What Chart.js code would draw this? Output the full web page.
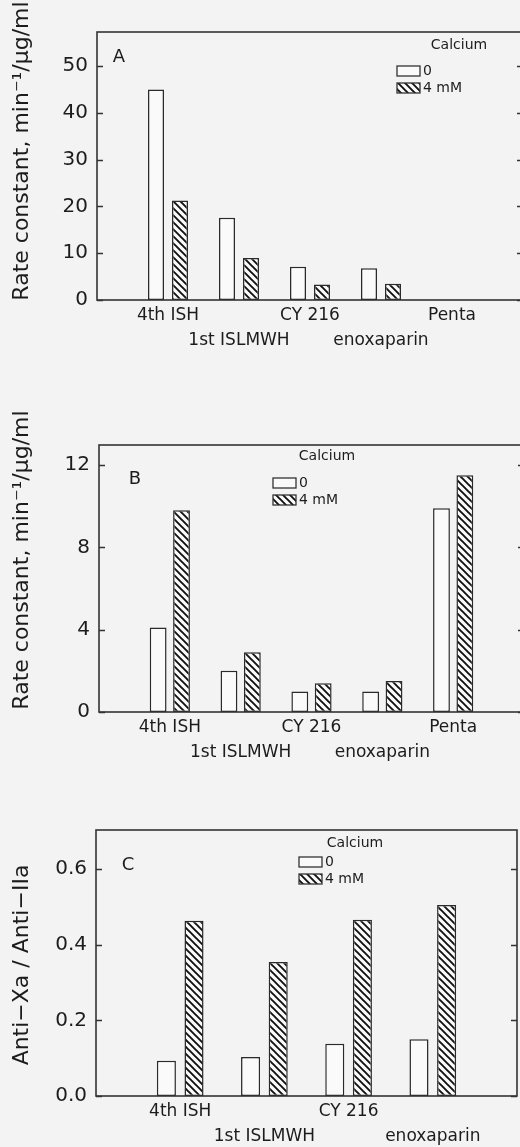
<!DOCTYPE html>
<html>
<head>
<meta charset="utf-8">
<script src="https://cdn.jsdelivr.net/npm/chart.js@4.4.1/dist/chart.umd.min.js"></script>
<style>
  html, body { margin: 0; padding: 0; background: #f3f3f3; width: 520px; height: 1147px; overflow: hidden; position: relative; }
  canvas { position: absolute; left: 0; }
</style>
</head>
<body>
<canvas id="chartA" style="top:0px" width="540" height="360"></canvas>
<canvas id="chartB" style="top:380px" width="540" height="390"></canvas>
<canvas id="chartC" style="top:770px" width="520" height="377"></canvas>
<script>
// categories (blank entries pad the axis on both sides)
const groupsAB = ['4th ISH', '1st ISLMWH', 'CY 216', 'enoxaparin', 'Penta'];
const groupsC = ['4th ISH', '1st ISLMWH', 'CY 216', 'enoxaparin'];
const seriesNames = ['0', '4 mM'];

// panel A: rate constant, min-1/ug/ml
const rateA_noCa = [45, 17.6, 7.1, 6.8, null];
const rateA_Ca = [21.3, 9.0, 3.3, 3.5, null];
// panel B
const rateB_noCa = [4.1, 2.0, 1.0, 1.0, 9.9];
const rateB_Ca = [9.8, 2.9, 1.4, 1.5, 11.5];
// panel C: anti-Xa / anti-IIa
const ratioC_noCa = [0.093, 0.103, 0.138, 0.15];
const ratioC_Ca = [0.463, 0.354, 0.466, 0.505];

const ink = '#1c1c1c';
const paper = '#fafafa';
const font = 'DejaVu Sans';

function makeHatch() {
    const c = document.createElement('canvas');
    c.width = 7; c.height = 7;
    const g = c.getContext('2d');
    g.fillStyle = paper;
    g.fillRect(0, 0, 7, 7);
    g.strokeStyle = '#111';
    g.lineWidth = 1.9;
    g.beginPath();
    g.moveTo(-1, -1); g.lineTo(8, 8);
    g.moveTo(-1, 6); g.lineTo(1, 8);
    g.moveTo(6, -1); g.lineTo(8, 1);
    g.stroke();
    return g.createPattern(c, 'repeat');
}
const hatch = makeHatch();

// frame, inward ticks, panel letter, legend and y title
const framePlugin = {
    id: 'frame',
    afterDatasetsDraw(chart, args, o) {
        const ctx = chart.ctx;
        const a = chart.chartArea;
        const y = chart.scales.y;
        ctx.save();
        ctx.strokeStyle = '#333';
        ctx.lineWidth = 1.6;
        ctx.strokeRect(a.left, a.top, a.right - a.left, a.bottom - a.top);
        ctx.lineWidth = 1.3;
        ctx.beginPath();
        y.ticks.forEach((t, i) => {
            const py = Math.round(y.getPixelForTick(i)) + 0.5;
            ctx.moveTo(a.left, py); ctx.lineTo(a.left + 6, py);
            ctx.moveTo(a.right, py); ctx.lineTo(a.right - 6, py);
        });
        ctx.stroke();

        ctx.fillStyle = ink;
        ctx.textAlign = 'center';
        ctx.textBaseline = 'middle';
        ctx.font = '18px "' + font + '"';
        ctx.fillText(o.letter, a.left + o.letterAt[0], a.top + o.letterAt[1]);

        // legend
        ctx.font = '14px "' + font + '"';
        ctx.fillText(o.legendTitle, a.left + o.legendTitleAt[0], a.top + o.legendTitleAt[1]);
        const bx = a.left + o.legendAt[0];
        let by = a.top + o.legendAt[1];
        ctx.textAlign = 'left';
        chart.data.datasets.forEach((ds, i) => {
            ctx.fillStyle = ds.backgroundColor;
            ctx.fillRect(bx, by, 23, 10);
            ctx.lineWidth = 1.3;
            ctx.strokeRect(bx, by, 23, 10);
            ctx.fillStyle = ink;
            ctx.fillText(ds.label, bx + 26, by + 5);
            by += 17;
        });

        // y title
        ctx.font = '22px "' + font + '"';
        ctx.textAlign = 'center';
        ctx.translate(o.titleAt[0], o.titleAt[1]);
        ctx.rotate(-Math.PI / 2);
        ctx.fillText(o.title, 0, 0);
        ctx.restore();
    }
};

function makeChart(id, groups, noCa, ca, opt) {
    const labels = [''].concat(groups, ['']);
    const pad = v => [null].concat(v, [null]);
    return new Chart(document.getElementById(id), {
        type: 'bar',
        data: {
            labels: labels,
            datasets: [
                { label: seriesNames[0], data: pad(noCa), backgroundColor: paper, borderColor: '#2a2a2a', borderWidth: 1.5, borderSkipped: false },
                { label: seriesNames[1], data: pad(ca), backgroundColor: hatch, borderColor: '#2a2a2a', borderWidth: 1.5, borderSkipped: false }
            ]
        },
        options: {
            responsive: false,
            devicePixelRatio: 1,
            animation: false,
            categoryPercentage: opt.catPct,
            barPercentage: opt.barPct,
            layout: { padding: { top: opt.top, right: opt.right, left: 0, bottom: 0 } },
            plugins: {
                legend: { display: false },
                tooltip: { enabled: false },
                frame: opt.frame
            },
            scales: {
                x: {
                    offset: false,
                    grid: { display: false, drawTicks: false },
                    border: { display: false },
                    afterFit: s => { s.height = opt.xHeight; },
                    ticks: {
                        autoSkip: false,
                        maxRotation: 0,
                        padding: 3,
                        color: ink,
                        font: { family: font, size: 17, lineHeight: 1.47 },
                        callback: function (v, i) {
                            const s = this.getLabelForValue(v);
                            if (!s) return '';
                            return i % 2 === 1 ? s : ['', s];
                        }
                    }
                },
                y: {
                    min: 0,
                    max: opt.max,
                    grid: { display: false, drawTicks: false },
                    border: { display: false },
                    afterFit: s => { s.width = opt.yWidth; },
                    ticks: {
                        stepSize: opt.step,
                        includeBounds: false,
                        padding: 9,
                        color: ink,
                        font: { family: font, size: 20 },
                        callback: v => opt.fmt(v)
                    }
                }
            }
        },
        plugins: [framePlugin]
    });
}

const rateTitle = 'Rate constant, min\u207B\u00B9/\u03BCg/ml';

makeChart('chartA', groupsAB, rateA_noCa, rateA_Ca, {
    max: 57.3, step: 10, fmt: v => v.toFixed(0),
    top: 32, right: 17, xHeight: 60, yWidth: 97,
    catPct: 0.676, barPct: 0.667,
    frame: { letter: 'A', letterAt: [22, 25], legendTitle: 'Calcium', legendTitleAt: [362, 13], legendAt: [300, 34], title: rateTitle, titleAt: [22, 151] }
});

makeChart('chartB', groupsAB, rateB_noCa, rateB_Ca, {
    max: 12.97, step: 4, fmt: v => v.toFixed(0),
    top: 65, right: 16, xHeight: 58, yWidth: 99,
    catPct: 0.66, barPct: 0.72,
    frame: { letter: 'B', letterAt: [36, 34], legendTitle: 'Calcium', legendTitleAt: [228, 11], legendAt: [174, 33], title: rateTitle, titleAt: [22, 180] }
});

makeChart('chartC', groupsC, ratioC_noCa, ratioC_Ca, {
    max: 0.703, step: 0.2, fmt: v => v.toFixed(1),
    top: 60, right: 2, xHeight: 51, yWidth: 96,
    catPct: 0.656, barPct: 0.69,
    frame: { letter: 'C', letterAt: [32, 35], legendTitle: 'Calcium', legendTitleAt: [259, 13], legendAt: [203, 27], title: 'Anti\u2212Xa / Anti\u2212IIa', titleAt: [22, 195] }
});
</script>
</body>
</html>
